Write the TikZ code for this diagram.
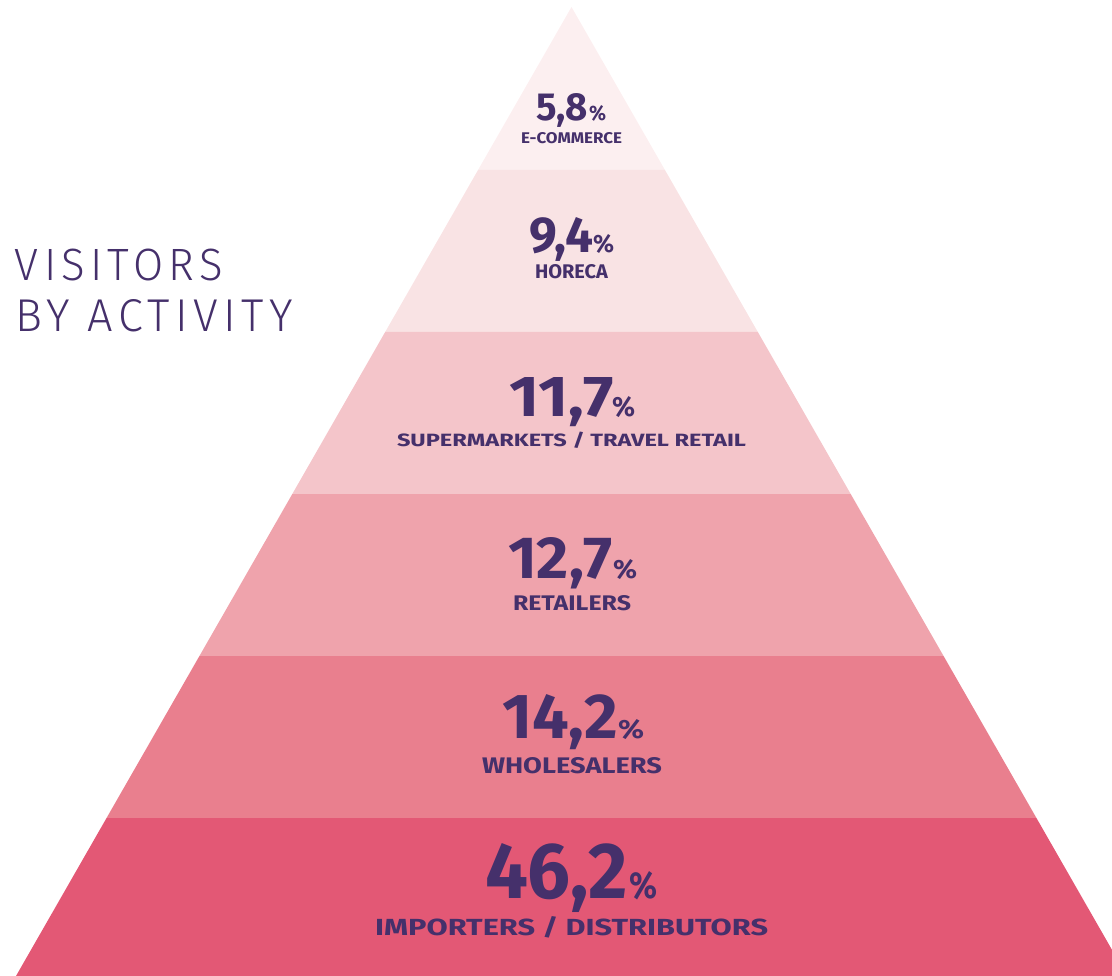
\documentclass[tikz,border=0pt]{standalone}
\usepackage{fontspec}
\setmainfont{Fira Sans}[Numbers=Proportional]
\newfontfamily\lightf{Fira Sans Light}[LetterSpace=12]
\usepackage{graphicx}
\definecolor{ink}{HTML}{45306B}
\definecolor{lay1}{HTML}{FCEFF0}
\definecolor{lay2}{HTML}{F9E3E4}
\definecolor{lay3}{HTML}{F4C5CA}
\definecolor{lay4}{HTML}{EFA3AC}
\definecolor{lay5}{HTML}{E97F8E}
\definecolor{lay6}{HTML}{E35875}
\newcommand{\fitto}[3]{\resizebox{#1pt}{#2pt}{#3}}
\begin{document}
\begin{tikzpicture}[x=1pt,y=-1pt,
  txt/.style={inner sep=0pt,outer sep=0pt,anchor=base west,text=ink,font=\bfseries},
  ttl/.style={inner sep=0pt,outer sep=0pt,anchor=base west,text=ink,font=\lightf}]
\useasboundingbox (0,0) rectangle (1112,976);
\clip (0,0) rectangle (1112,976);
% layers
\fill[lay1] (571.5,7) -- (664.95,170) -- (478.05,170) -- cycle;
\fill[lay2] (478.05,170) -- (664.95,170) -- (757.82,332) -- (385.18,332) -- cycle;
\fill[lay3] (385.18,332) -- (757.82,332) -- (850.7,494) -- (292.3,494) -- cycle;
\fill[lay4] (292.3,494) -- (850.7,494) -- (943.57,656) -- (199.43,656) -- cycle;
\fill[lay5] (199.43,656) -- (943.57,656) -- (1036.45,818) -- (106.55,818) -- cycle;
\fill[lay6] (106.55,818) -- (1036.45,818) -- (1127,976) -- (16,976) -- cycle;
% title
\node[ttl] (t1) at (15,281) {\fitto{208}{31.5}{VISITORS}};
\node[ttl] (t2) at (15,332) {\fitto{278}{32}{BY ACTIVITY}};
% row 1
\node[txt] (n1) at (536,121) {\fitto{52}{27}{5,8}};
\node[txt] (p1) at (589,121) {\fitto{17}{15}{\%}};
\node[txt] (l1) at (521,144) {\fitto{101}{11}{E-COMMERCE}};
% row 2
\node[txt] (n2) at (529,253) {\fitto{64}{35}{9,4}};
\node[txt] (p2) at (593,253) {\fitto{21}{18}{\%}};
\node[txt] (l2) at (535,279) {\fitto{73}{14}{HORECA}};
% row 3
\node[txt] (n3) at (509,417) {\fitto{105}{39}{11,7}};
\node[txt] (p3) at (612,417) {\fitto{23}{20}{\%}};
\node[txt] (l3) at (397,447) {\fitto{349}{14.5}{SUPERMARKETS / TRAVEL RETAIL}};
% row 4
\node[txt] (n4) at (508,578) {\fitto{105}{41}{12,7}};
\node[txt] (p4) at (613,578) {\fitto{24}{19}{\%}};
\node[txt] (l4) at (513,610) {\fitto{118}{15}{RETAILERS}};
% row 5
\node[txt] (n5) at (502,738) {\fitto{116}{44}{14,2}};
\node[txt] (p5) at (618,738) {\fitto{26}{19}{\%}};
\node[txt] (l5) at (482,773) {\fitto{180}{16}{WHOLESALERS}};
% row 6
\node[txt] (n6) at (485,898) {\fitto{143}{55}{46,2}};
\node[txt] (p6) at (629,898) {\fitto{28}{27}{\%}};
\node[txt] (l6) at (375,935) {\fitto{393}{19}{IMPORTERS / DISTRIBUTORS}};
\end{tikzpicture}
\end{document}
